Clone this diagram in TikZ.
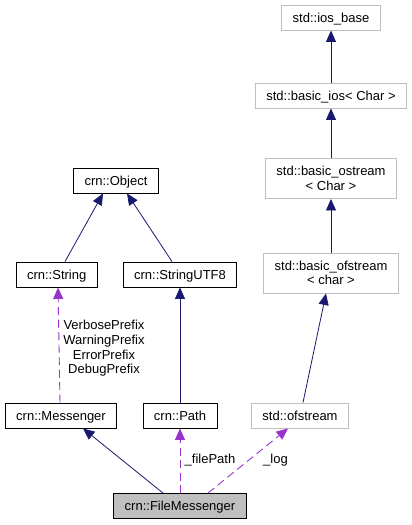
\documentclass[tikz,border=0pt]{standalone}
\usepackage{fontspec}
\setmainfont{Liberation Sans}
\usetikzlibrary{arrows.meta}
\definecolor{navyedge}{HTML}{191970}
\definecolor{purpleedge}{HTML}{9A32CD}
\definecolor{boxgray}{HTML}{BFBFBF}
\begin{document}
\begin{tikzpicture}[x=1pt,y=-1pt,
  txt/.style={font=\fontsize{13}{14.7}\selectfont},
  crnbox/.style={txt,draw=black,line width=0.9pt,inner xsep=11pt,inner ysep=0pt,
    minimum height=25pt,text height=9.3pt,text depth=0pt},
  stdbox/.style={crnbox,draw=boxgray},
  stdbox2/.style={txt,draw=boxgray,line width=0.9pt,inner xsep=11pt,inner ysep=0pt,
    minimum height=40pt,align=center},
  mainbox/.style={crnbox,fill=boxgray},
  inh/.style={draw=navyedge,line width=0.8pt,-{Triangle[length=11.5pt,width=10pt]}},
  use/.style={draw=purpleedge,line width=0.9pt,dash pattern=on 8pt off 4.5pt,
    -{Triangle[length=11.5pt,width=10pt]}},
  lbl/.style={txt,align=center,inner sep=0pt}
]
\useasboundingbox (0,0) rectangle (412,525);

% std column
\node[stdbox]  (iosb) at (331,17.5)  {std::ios\_base};
\node[stdbox]  (bios) at (331,95.5)  {std::basic\_ios< Char >};
\node[stdbox2] (bost) at (331,178.5) {std::basic\_ostream\\< Char >};
\node[stdbox2] (bofs) at (331,273)   {std::basic\_ofstream\\< char >};
\node[stdbox]  (ofs)  at (300,415.5) {std::ofstream};

% crn nodes
\node[crnbox] (obj)  at (116,180.5)  {crn::Object};
\node[crnbox] (str)  at (56.7,274.5) {crn::String};
\node[crnbox] (utf)  at (180,274.5)  {crn::StringUTF8};
\node[crnbox] (msg)  at (61,415.5)   {crn::Messenger};
\node[crnbox] (path) at (180,415.5)  {crn::Path};
\node[mainbox] (fm)  at (180,506)    {crn::FileMessenger};

% inheritance edges
\draw[inh] (bios.north) -- (iosb.south);
\draw[inh] (bost.north) -- (bios.south);
\draw[inh] (bofs.north) -- (bost.south);
\draw[inh] ([xshift=3pt]ofs.north) -- ([xshift=-5pt]bofs.south);
\draw[inh] ([xshift=8.3pt]str.north) -- ([xshift=-13pt]obj.south);
\draw[inh] ([xshift=-8pt]utf.north) -- ([xshift=11pt]obj.south);
\draw[inh] (path.north) -- (utf.south);
\draw[inh] ([xshift=-17pt]fm.north) -- ([xshift=22pt]msg.south);

% usage edges
\draw[use] ([xshift=-1pt]msg.north) -- ([xshift=1.3pt]str.south);
\draw[use] (fm.north) -- (path.south);
\draw[use] ([xshift=28pt]fm.north) -- ([xshift=-12pt]ofs.south);

% labels
\node[lbl] (lpre) at (104,348.5) {VerbosePrefix\\WarningPrefix\\ErrorPrefix\\DebugPrefix};
\node[lbl] (lfp)  at (210,460.5) {\_filePath};
\node[lbl] (llog) at (275.5,460.5) {\_log};
\end{tikzpicture}
\end{document}
